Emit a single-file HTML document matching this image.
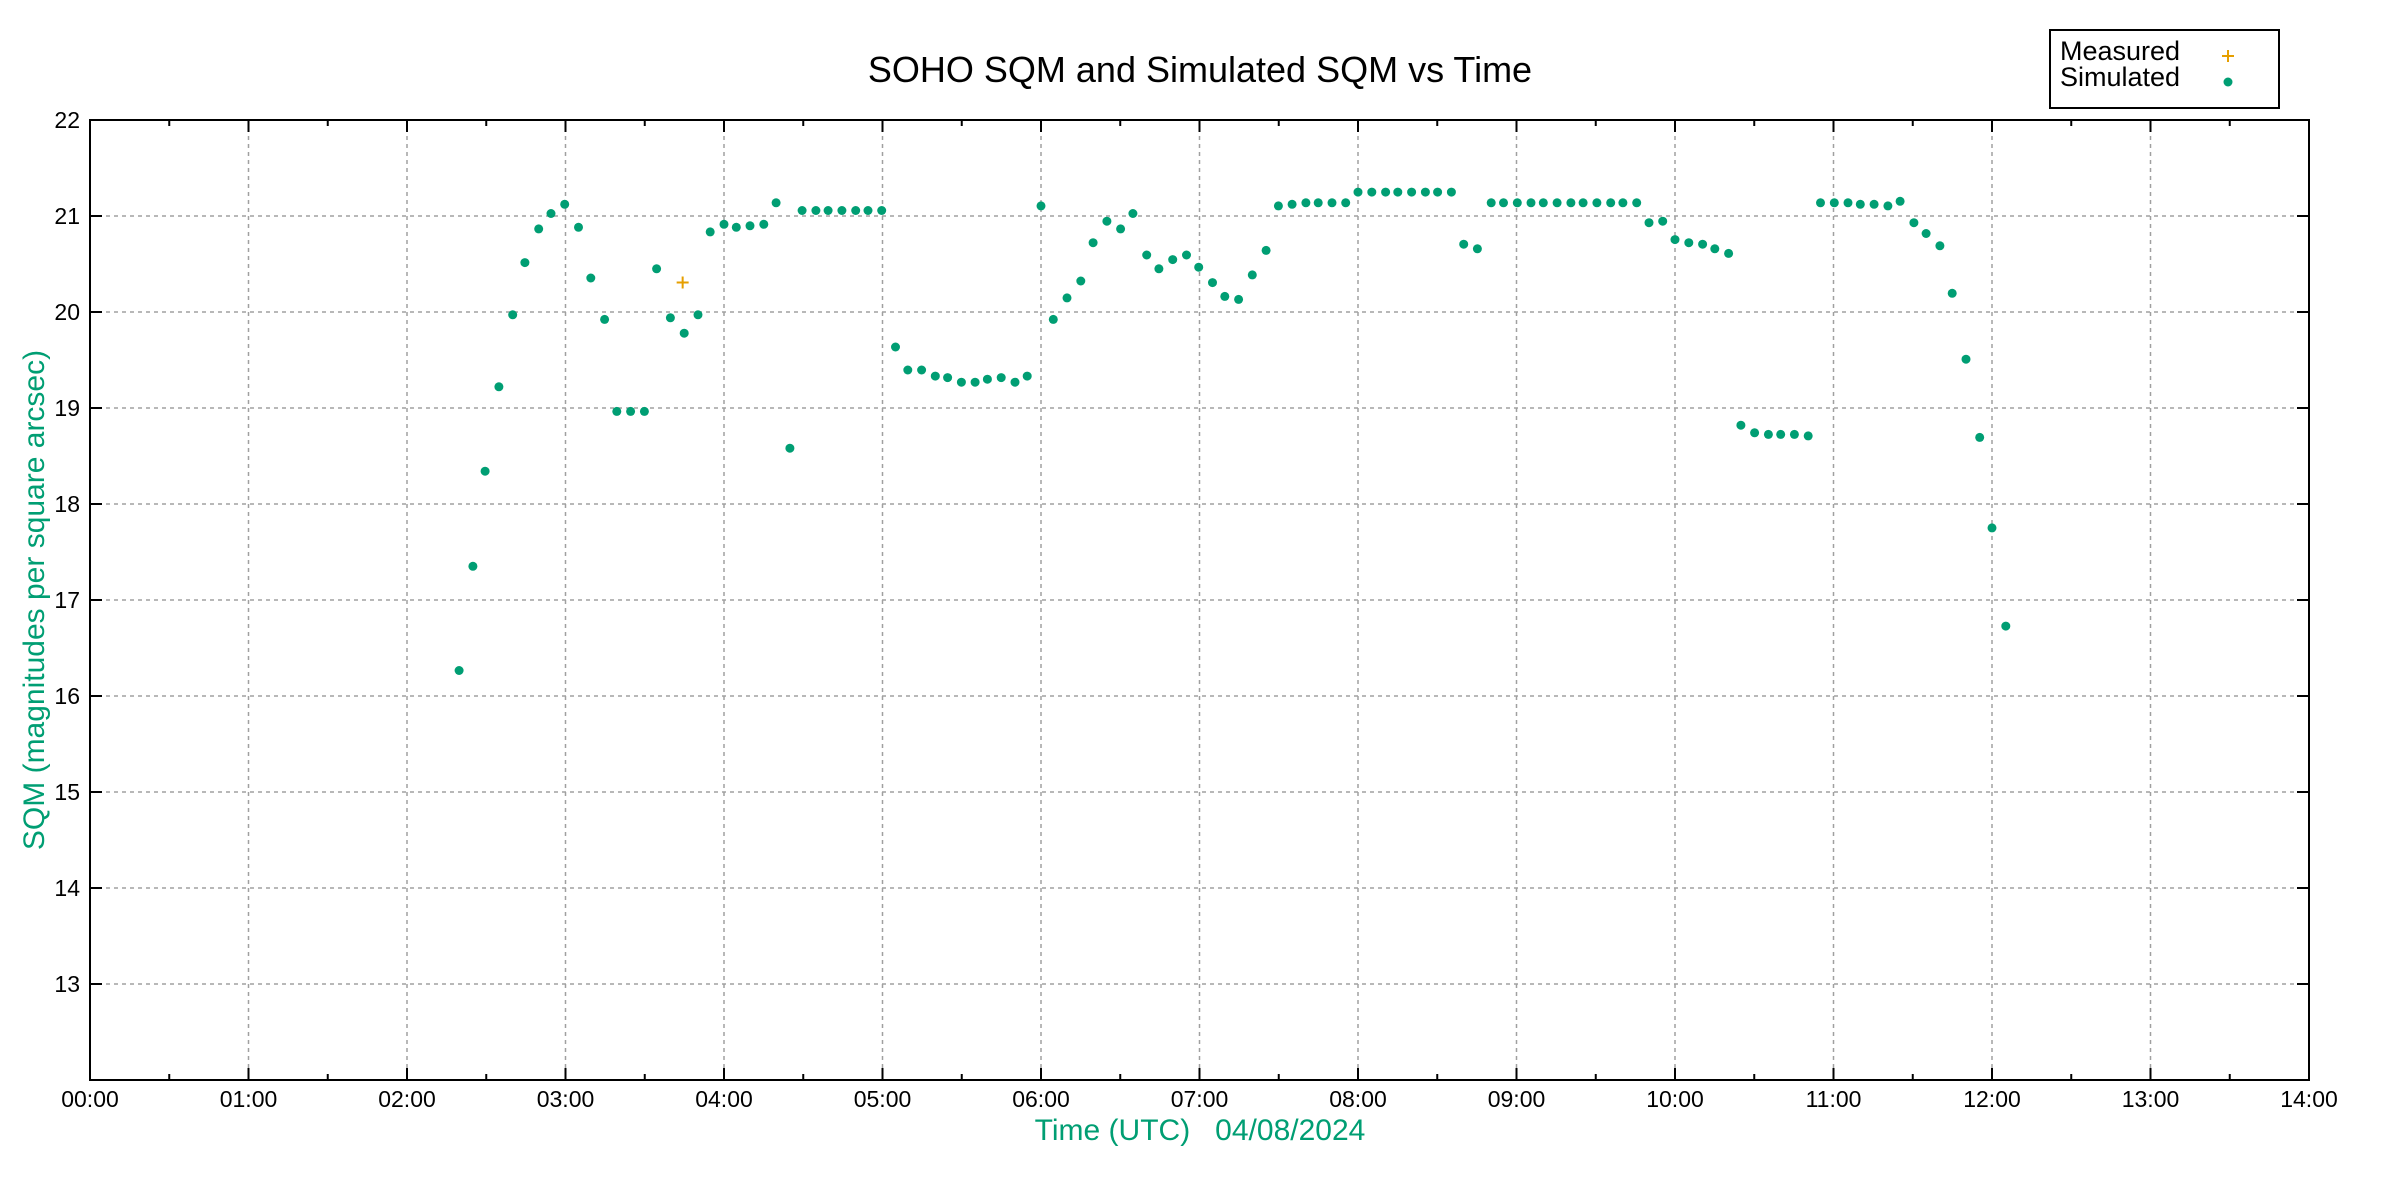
<!DOCTYPE html>
<html><head><meta charset="utf-8"><style>
html,body{margin:0;padding:0;background:#fff}
svg{display:block}
text{font-family:"Liberation Sans",sans-serif}
</style></head><body>
<svg id="s" width="2400" height="1200" xmlns="http://www.w3.org/2000/svg">
<rect width="2400" height="1200" fill="#fff"/>
<g id="grid"></g>
<g id="pts"></g>
<rect x="90" y="120" width="2219" height="960" fill="none" stroke="#000" stroke-width="2"/>
<text x="1200" y="82" font-size="36" text-anchor="middle">SOHO SQM and Simulated SQM vs Time</text>
<text x="1200" y="1140" font-size="30" text-anchor="middle" fill="#009e73" xml:space="preserve">Time (UTC)   04/08/2024</text>
<text transform="translate(44,600) rotate(-90)" font-size="30" text-anchor="middle" fill="#009e73">SQM (magnitudes per square arcsec)</text>
<rect x="2050" y="30" width="229" height="78" fill="#fff" stroke="#000" stroke-width="2"/>
<text x="2060" y="60" font-size="27">Measured</text>
<text x="2060" y="86" font-size="27">Simulated</text>
<path d="M2222 56h12M2228 50v12" stroke="#e69f00" stroke-width="2"/>
<circle cx="2228" cy="82" r="4.5" fill="#009e73"/>
</svg>
<script>
const NS="http://www.w3.org/2000/svg";
const g=document.getElementById('grid'),p=document.getElementById('pts');
function el(t,a,par){const e=document.createElementNS(NS,t);for(const k in a)e.setAttribute(k,a[k]);(par||g).appendChild(e);return e;}
const L=90,R=2309,T=120,B=1080,H=(R-L)/14,U=96;
for(let h=0;h<=14;h++){const x=L+h*H;
 if(h>0&&h<14)el('line',{x1:x,y1:T,x2:x,y2:B,stroke:'#a0a0a0','stroke-width':1.5,'stroke-dasharray':'4,4'});
 el('line',{x1:x,y1:B,x2:x,y2:B-12,stroke:'#000','stroke-width':2});
 el('line',{x1:x,y1:T,x2:x,y2:T+12,stroke:'#000','stroke-width':2});
 if(h<14){el('line',{x1:x+H/2,y1:B,x2:x+H/2,y2:B-6,stroke:'#000','stroke-width':2});
 el('line',{x1:x+H/2,y1:T,x2:x+H/2,y2:T+6,stroke:'#000','stroke-width':2});}
 const t=el('text',{x:x,y:B+27,'font-size':23,'text-anchor':'middle'});t.textContent=(h<10?'0':'')+h+':00';}
for(let v=13;v<=22;v++){const y=T+(22-v)*U;
 if(v<22)el('line',{x1:L,y1:y,x2:R,y2:y,stroke:'#a0a0a0','stroke-width':1.5,'stroke-dasharray':'4,4'});
 el('line',{x1:L,y1:y,x2:L+12,y2:y,stroke:'#000','stroke-width':2});
 el('line',{x1:R,y1:y,x2:R-12,y2:y,stroke:'#000','stroke-width':2});
 const t=el('text',{x:L-10,y:y+8,'font-size':23,'text-anchor':'end'});t.textContent=v;}
const d=[300,437,309,369,317,307,326,252,335,205,343,171,352,149,360,139,369,133,378,148,386,181,395,208,403,268,412,268,421,268,429,175,438,207,447,217,456,205,464,151,473,146,481,148,490,147,499,146,507,132,516,292,524,137,533,137,541,137,550,137,559,137,567,137,576,137,585,226,593,241,602,241,611,245,619,246,628,249,637,249,645,247,654,246,663,249,671,245,680,134,688,208,697,194,706,183,714,158,723,144,732,149,740,139,749,166,757,175,766,169,775,166,783,174,792,184,800,193,809,195,818,179,827,163,835,134,844,133,853,132,861,132,870,132,879,132,887,125,896,125,905,125,913,125,922,125,931,125,939,125,948,125,956,159,965,162,974,132,982,132,991,132,1000,132,1008,132,1017,132,1026,132,1034,132,1043,132,1052,132,1060,132,1069,132,1077,145,1086,144,1094,156,1103,158,1112,159,1120,162,1129,165,1137,277,1146,282,1155,283,1163,283,1172,283,1181,284,1189,132,1198,132,1207,132,1215,133,1224,133,1233,134,1241,131,1250,145,1258,152,1267,160,1275,191,1284,234,1293,285,1301,344,1310,408];
const X=dx=>L+(dx-59)*H/103.5, Y=dy=>T+(dy-78)*U/62.6;
for(let i=0;i<d.length;i+=2)el('circle',{cx:X(d[i]).toFixed(1),cy:Y(d[i+1]).toFixed(1),r:4.5,fill:'#009e73'},p);
const mx=X(446),my=Y(184);
el('path',{d:`M${mx-6} ${my}h12M${mx} ${my-6}v12`,stroke:'#e69f00','stroke-width':2},p);
</script>
</body></html>
